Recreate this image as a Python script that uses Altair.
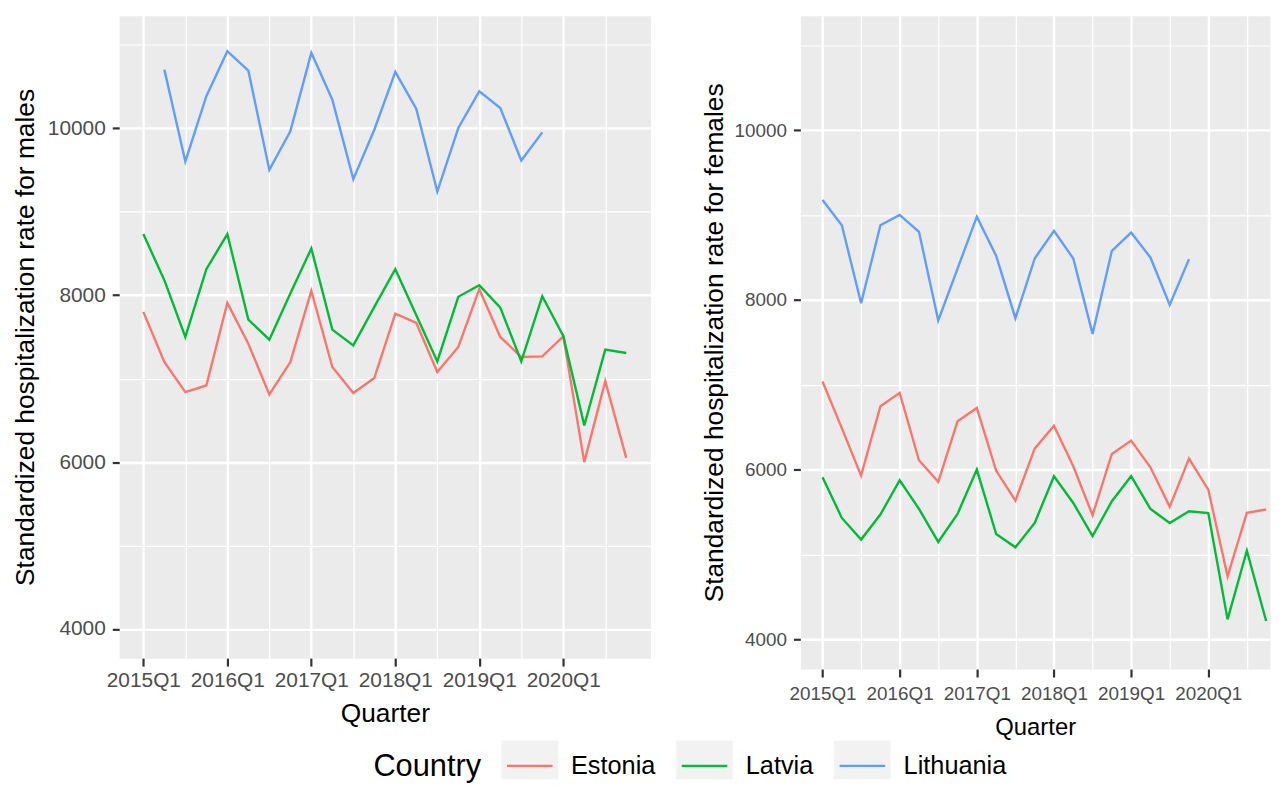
import altair as alt
import pandas as pd

quarters = ["2015Q1", "2015Q2", "2015Q3", "2015Q4", "2016Q1", "2016Q2", "2016Q3", "2016Q4",
            "2017Q1", "2017Q2", "2017Q3", "2017Q4", "2018Q1", "2018Q2", "2018Q3", "2018Q4",
            "2019Q1", "2019Q2", "2019Q3", "2019Q4", "2020Q1", "2020Q2", "2020Q3", "2020Q4"]
tick_labels = ["2015Q1", "2016Q1", "2017Q1", "2018Q1", "2019Q1", "2020Q1"]
countries = ["Estonia", "Latvia", "Lithuania"]
colors = ["#F8766D", "#00BA38", "#619CFF"]

male_estonia = [7800, 7199, 6839, 6918, 7908, 7419, 6810, 7199, 8053, 7139, 6827, 7007,
                7780, 7668, 7079, 7380, 8072, 7500, 7259, 7267, 7507, 6000, 6970, 6050]
male_latvia = [8733, 8180, 7500, 8312, 8733, 7708, 7467, 8020, 8561, 7588, 7399, 7860,
               8312, 7760, 7207, 7981, 8120, 7852, 7207, 7988, 7512, 6440, 7347, 7307]
male_lithuania = [None, 10704, 9603, 10385, 10925, 10692, 9502, 9964, 10905, 10344, 9391, 9983,
                  10677, 10232, 9243, 10004, 10445, 10244, 9615, 9952, None, None, None, None]

female_estonia = [7040, 6490, 5930, 6747, 6905, 6111, 5856, 6570, 6728, 5989, 5636, 6248,
                  6519, 6040, 5463, 6185, 6343, 6028, 5562, 6130, 5765, 4744, 5491, 5531]
female_latvia = [5911, 5431, 5176, 5471, 5875, 5538, 5148, 5479, 6001, 5242, 5085, 5372,
                 5923, 5608, 5216, 5628, 5923, 5538, 5372, 5509, 5489, 4236, 5045, 4216]
female_lithuania = [9178, 8880, 7961, 8880, 9002, 8803, 7758, 8370, 8982, 8521, 7785, 8489,
                    8814, 8489, 7600, 8579, 8794, 8501, 7941, 8481, None, None, None, None]

y_limits = [4000, 11000]
y_breaks = [4000, 5000, 6000, 7000, 8000, 9000, 10000, 11000]

FONT = "Liberation Sans"


def to_long(series):
    rows = []
    for country, vals in zip(countries, series):
        for i, (q, v) in enumerate(zip(quarters, vals)):
            if v is not None:
                rows.append({"Country": country, "qi": i, "Quarter": q, "value": v})
    return pd.DataFrame(rows)


males = to_long([male_estonia, male_latvia, male_lithuania])
females = to_long([female_estonia, female_latvia, female_lithuania])

span_y = y_limits[1] - y_limits[0]
y_domain = [y_limits[0] - 0.05 * span_y, y_limits[1] + 0.05 * span_y]
n_q = len(quarters) - 1
major_x = [quarters.index(t) for t in tick_labels]
x_values = sorted(major_x + [m + 2 for m in major_x])
q_js = "[" + ",".join("'" + q + "'" for q in quarters) + "]"
x_label_expr = "datum.value % 4 === 0 ? " + q_js + "[datum.value] : ''"
x_test = "datum.value % 4 === 0"
y_test = "datum.value % 2000 === 0"

# legend key: one continuous path = short colored line + grey key box (box traced with the
# dash pattern "off", so only the line part is stroked; the box is filled grey)
KEY_PATH = "M-1.53,0H1.53H1.9V0.9H-1.9V-1.7H1.9V0"

legend = alt.Legend(
    title="Country", orient="none", legendX=256, legendY=739, direction="horizontal",
    titleOrient="left", titleFont=FONT, titleFontSize=31, titleFontWeight="normal",
    titleColor="black", titlePadding=32, titleBaseline="middle",
    labelFont=FONT, labelFontSize=25.5, labelColor="black",
    labelOffset=25, columnPadding=15,
    symbolType=KEY_PATH, symbolSize=900, symbolStrokeWidth=2.5,
    symbolFillColor="#F2F2F2", symbolDash=[45.9, 2000],
)


def panel(df, ytitle, x_domain, w, h, lab_fs, xtitle_fs, ytitle_pad, xlab_pad, xtitle_pad):
    x = alt.X("qi:Q",
              scale=alt.Scale(domain=x_domain, nice=False, zero=False),
              axis=alt.Axis(values=x_values, labelExpr=x_label_expr, title="Quarter",
                            labelFontSize=lab_fs, titleFontSize=xtitle_fs,
                            labelOverlap=False, labelFlush=False,
                            tickSize=8, labelPadding=xlab_pad, titlePadding=xtitle_pad,
                            gridWidth={"condition": {"test": x_test, "value": 2.4}, "value": 1.2},
                            tickOpacity={"condition": {"test": x_test, "value": 1}, "value": 0}))
    y = alt.Y("value:Q",
              scale=alt.Scale(domain=y_domain, nice=False, zero=False),
              axis=alt.Axis(values=y_breaks, format="d",
                            labelExpr="datum.value % 2000 === 0 ? datum.label : ''",
                            title=ytitle, labelFontSize=lab_fs, titleFontSize=26.5,
                            tickSize=7, labelPadding=7, titlePadding=ytitle_pad,
                            labelOverlap=False,
                            gridWidth={"condition": {"test": y_test, "value": 2.4}, "value": 1.2},
                            tickOpacity={"condition": {"test": y_test, "value": 1}, "value": 0}))
    return alt.Chart(df).mark_line(strokeWidth=2.4, clip=True).encode(
        x=x, y=y,
        color=alt.Color("Country:N",
                        scale=alt.Scale(domain=countries, range=colors),
                        legend=legend),
        order="qi:Q",
    ).properties(width=w, height=h)


left = panel(males, "Standardized hospitalization rate for males",
             [-0.05 * n_q, n_q + 0.05 * n_q], 535, 647, 21, 26.5, 8, 4, 10)
right = panel(females, "Standardized hospitalization rate for females",
              [-0.05 * n_q, 23.2], 473, 658, 19, 24, 6, 8, 12)

chart = alt.hconcat(left, right, spacing=49).resolve_scale(
    x="independent", y="independent", color="shared"
).properties(
    padding={"left": 4, "top": 4, "right": 0, "bottom": 0}
).configure(background="white").configure_view(
    fill="#EBEBEB", stroke="transparent"
).configure_axis(
    labelFont=FONT, titleFont=FONT, labelColor="#4D4D4D", titleColor="black",
    titleFontWeight="normal", tickColor="#333333", tickWidth=2.2,
    domain=False, gridColor="white"
)

chart.save("out.html", embed_options={"renderer": "svg", "actions": False})
